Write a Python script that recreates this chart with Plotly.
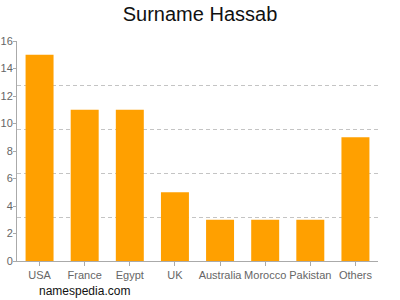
import plotly.graph_objects as go

categories = ["USA", "France", "Egypt", "UK", "Australia", "Morocco", "Pakistan", "Others"]
values = [15, 11, 11, 5, 3, 3, 3, 9]
y_ticks = [0, 2, 4, 6, 8, 10, 12, 14, 16]
grid_lines = [3.2, 6.4, 9.6, 12.8, 16]

fig = go.Figure()
fig.add_trace(go.Bar(x=categories, y=values, marker_color="#FFA000",
                     marker_line_width=0, width=0.62, hoverinfo="skip"))
fig.add_trace(go.Scatter(x=categories[:1], y=[0], yaxis="y2", mode="markers",
                         marker_opacity=0, showlegend=False, hoverinfo="skip"))

fig.update_layout(
    width=400, height=300,
    margin=dict(l=17, r=22, t=41, b=39),
    paper_bgcolor="white", plot_bgcolor="white",
    showlegend=False,
    title=dict(text="Surname Hassab", x=0.5, xanchor="center", y=0.955, yanchor="middle",
               font=dict(family="Liberation Sans, Arial, sans-serif", size=20, color="#111")),
    font=dict(family="Liberation Sans, Arial, sans-serif", size=11, color="#666"),
    xaxis=dict(showline=True, linecolor="#aaa", linewidth=1, ticks="outside",
               ticklen=4, tickcolor="#aaa", showgrid=False, tickangle=0,
               automargin=False, tickfont=dict(size=11, color="#666")),
    yaxis=dict(range=[0, 16], tickvals=y_ticks, showline=True, linecolor="#aaa",
               linewidth=1, ticks="outside", ticklen=3, tickcolor="#aaa",
               showgrid=False, zeroline=False, automargin=False,
               ticklabelstandoff=-2,
               tickfont=dict(size=11, color="#666")),
    yaxis2=dict(range=[0, 16], overlaying="y", side="right", tickvals=grid_lines,
                showgrid=True, gridcolor="#c4c4c4", griddash="4px,3px", gridwidth=1,
                showticklabels=False, zeroline=False, showline=False, ticks="",
                automargin=False),
    annotations=[dict(text="namespedia.com", x=20 / 361, y=-30 / 220, xref="paper",
                      yref="paper", xanchor="left", yanchor="middle", showarrow=False,
                      font=dict(family="Liberation Sans, Arial, sans-serif",
                                size=12, color="#111"))],
)

fig.write_html("out.html")
